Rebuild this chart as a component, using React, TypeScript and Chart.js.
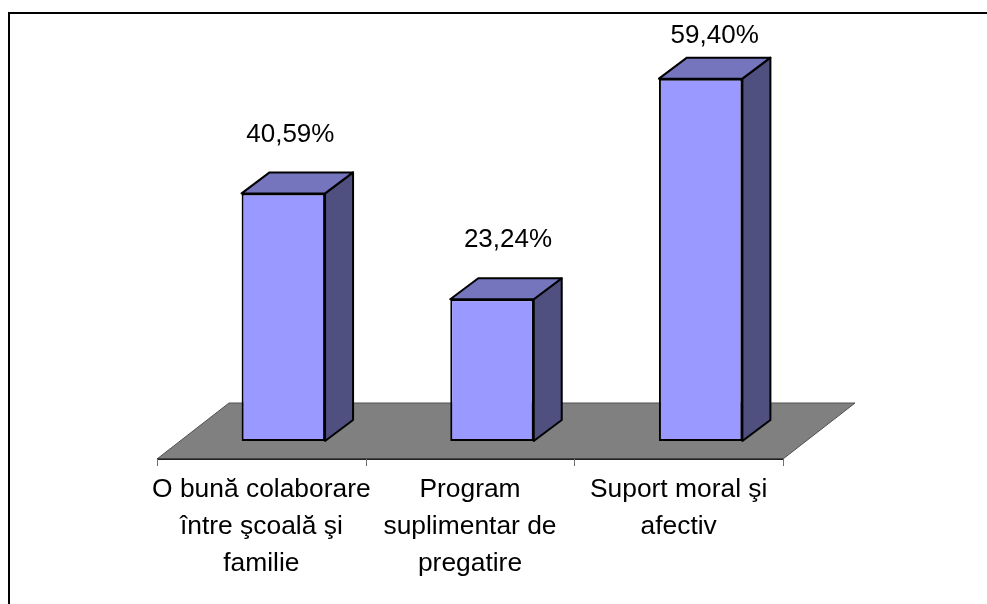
import React, { useEffect, useRef } from "react";
import { Chart, registerables } from "chart.js";

Chart.register(...registerables);

const categories: string[][] = [
  ["O bună colaborare", "între şcoală şi", "familie"],
  ["Program", "suplimentar de", "pregatire"],
  ["Suport moral şi", "afectiv"],
];
const values: number[] = [40.59, 23.24, 59.4];
const valueLabels: string[] = ["40,59%", "23,24%", "59,40%"];
const labelShiftX: number[] = [7, 16, 14];
const labelGapY: number[] = [59, 59, 43];

const FONT = '"Liberation Sans", Arial, sans-serif';
const FRONT = "#9999FF";
const SIDE = "#4F4F80";
const TOP = "#7575BD";
const FLOOR = "#808080";

// projection of the 3D look
const BAR_SHIFT_X = 22;
const FLOOR_FRONT_DY = 18;
const FLOOR_DX = 72;
const FLOOR_DY = 56;
const DEPTH_X = 28;
const DEPTH_Y = 21;

function poly(ctx: CanvasRenderingContext2D, pts: number[][], fill: string, stroke: string, lw: number) {
  ctx.beginPath();
  pts.forEach((p, i) => (i ? ctx.lineTo(p[0], p[1]) : ctx.moveTo(p[0], p[1])));
  ctx.closePath();
  ctx.fillStyle = fill;
  ctx.fill();
  ctx.strokeStyle = stroke;
  ctx.lineWidth = lw;
  ctx.lineJoin = "round";
  ctx.stroke();
}

const threeD = {
  id: "threeD",
  beforeDraw(chart: any) {
    const { ctx, width, height } = chart;
    ctx.save();
    ctx.fillStyle = "#fff";
    ctx.fillRect(0, 0, width, height);
    ctx.fillStyle = "#000";
    ctx.fillRect(8, 12, width - 8, 2);
    ctx.fillRect(8, 12, 2, height - 12);
    ctx.restore();
  },
  beforeDatasetsDraw(chart: any) {
    const { ctx, scales } = chart;
    const x = scales.x;
    const base = scales.y.getPixelForValue(0);
    const fy = base + FLOOR_FRONT_DY;
    ctx.save();
    poly(
      ctx,
      [
        [x.left, fy],
        [x.right, fy],
        [x.right + FLOOR_DX, fy - FLOOR_DY],
        [x.left + FLOOR_DX, fy - FLOOR_DY],
      ],
      FLOOR,
      "#505050",
      1
    );
    ctx.fillStyle = "#202020";
    ctx.fillRect(x.left, fy - 0.5, x.right - x.left, 1.5);
    ctx.fillStyle = "#707070";
    const step = (x.right - x.left) / categories.length;
    for (let i = 0; i <= categories.length; i++) {
      ctx.fillRect(Math.round(x.left + i * step), fy, 1, 7);
    }
    const meta = chart.getDatasetMeta(0);
    meta.data.forEach((bar: any) => {
      const half = bar.width / 2;
      const l = bar.x + BAR_SHIFT_X - half;
      const r = bar.x + BAR_SHIFT_X + half;
      const t = bar.y;
      poly(ctx, [[r, t], [r + DEPTH_X, t - DEPTH_Y], [r + DEPTH_X, base - DEPTH_Y], [r, base]], SIDE, "#000", 2);
      poly(ctx, [[l, t], [l + DEPTH_X, t - DEPTH_Y], [r + DEPTH_X, t - DEPTH_Y], [r, t]], TOP, "#000", 2);
    });
    ctx.restore();
    ctx.save();
    ctx.translate(BAR_SHIFT_X, 0);
  },
  afterDatasetsDraw(chart: any) {
    const { ctx } = chart;
    ctx.restore();
    const meta = chart.getDatasetMeta(0);
    ctx.save();
    ctx.fillStyle = "#000";
    ctx.font = `26px ${FONT}`;
    ctx.textAlign = "center";
    ctx.textBaseline = "middle";
    meta.data.forEach((bar: any, i: number) => {
      ctx.fillText(valueLabels[i], bar.x + BAR_SHIFT_X + labelShiftX[i], bar.y - labelGapY[i]);
    });
    ctx.restore();
  },
};

export default function App() {
  const ref = useRef<HTMLCanvasElement | null>(null);
  useEffect(() => {
    const chart = new Chart(ref.current as HTMLCanvasElement, {
      type: "bar",
      data: {
        labels: categories as any,
        datasets: [
          {
            data: values,
            backgroundColor: FRONT,
            borderColor: "#000",
            borderWidth: 2,
            borderSkipped: false,
            barPercentage: 0.4,
            categoryPercentage: 1,
            clip: false as any,
          },
        ],
      },
      options: {
        responsive: false,
        animation: false,
        events: [],
        layout: { padding: { left: 157, right: 204, top: 75, bottom: 0 } },
        plugins: { legend: { display: false }, tooltip: { enabled: false }, title: { display: false } },
        scales: {
          x: {
            grid: { display: false },
            border: { display: false },
            afterFit(scale: any) {
              scale.height = 163;
            },
            ticks: {
              color: "#000",
              padding: 22,
              autoSkip: false,
              maxRotation: 0,
              minRotation: 0,
              font: { family: FONT, size: 26.4, lineHeight: 1.4 },
            },
          },
          y: { display: false, min: 0, max: 60 },
        },
      },
      plugins: [threeD],
    });
    return () => chart.destroy();
  }, []);
  return (
    <div style={{ position: "fixed", left: 0, top: 0, width: 987, height: 604 }}>
      <canvas ref={ref} width={987} height={604} style={{ display: "block" }} />
    </div>
  );
}
